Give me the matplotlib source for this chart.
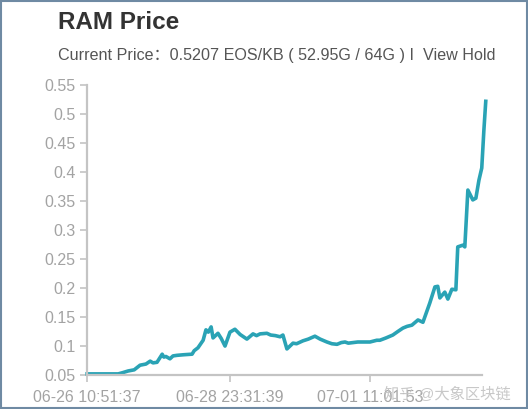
"""RAM price line chart (EOS/KB) over roughly a week."""

import datetime as dt

import matplotlib
matplotlib.use("Agg")
import matplotlib.pyplot as plt
import matplotlib.dates as mdates
from matplotlib.patches import Rectangle

# hours elapsed since 06-26 10:51:37, and price in EOS/KB
hours = [0, 6, 13.2, 15, 17.4, 20, 22.5, 25, 26.8, 28,
         29.7, 31.9, 32.6, 33.5, 35.2, 36.5, 38.2, 41, 44.6, 45.5,
         47.1, 49.3, 50.5, 51.5, 52.7, 53.5, 55.6, 57, 58.6, 60.7,
         62.8, 65, 67.9, 70.5, 72, 73.5, 76.4, 78, 80, 82,
         83.2, 84.9, 87.5, 89, 91.7, 94, 96.8, 99, 101.9, 104,
         106.2, 108, 109.6, 111, 113, 115, 117.2, 120.2, 123.1, 124.4,
         127, 129.9, 132, 134.2, 136, 138, 140.6, 142.7, 145.6, 147.8,
         149.0, 149.9, 152.0, 153.3, 155.0, 156.7, 157.5, 159.7, 160.5, 161.8,
         163.9, 165.2, 166.5, 167.7, 168.6, 169.4]
price = [0.052, 0.052, 0.052, 0.054, 0.057, 0.059, 0.067, 0.069, 0.074, 0.071,
         0.072, 0.086, 0.081, 0.082, 0.078, 0.083, 0.084, 0.085, 0.086, 0.092,
         0.097, 0.110, 0.128, 0.124, 0.133, 0.114, 0.122, 0.113, 0.100, 0.124,
         0.129, 0.120, 0.112, 0.121, 0.118, 0.121, 0.122, 0.119, 0.118, 0.116,
         0.119, 0.095, 0.105, 0.104, 0.109, 0.112, 0.117, 0.112, 0.107, 0.104,
         0.103, 0.106, 0.107, 0.105, 0.106, 0.107, 0.107, 0.107, 0.110, 0.110,
         0.114, 0.119, 0.125, 0.131, 0.134, 0.136, 0.145, 0.141, 0.174, 0.202,
         0.203, 0.183, 0.193, 0.181, 0.198, 0.197, 0.271, 0.274, 0.271, 0.369,
         0.352, 0.355, 0.386, 0.407, 0.472, 0.522]

y_ticks = [0.05, 0.1, 0.15, 0.2, 0.25, 0.3, 0.35, 0.4, 0.45, 0.5, 0.55]
y_labels = ["0.05", "0.1", "0.15", "0.2", "0.25", "0.3", "0.35", "0.4", "0.45", "0.5", "0.55"]
x_ticks = ["2018-06-26 10:51:37", "2018-06-28 23:31:39", "2018-07-01 11:01:53"]

title = "RAM Price"
subtitle = "Current Price：0.5207 EOS/KB ( 52.95G / 64G ) I  View Hold"
watermark = "知乎 @大象区块链"

start = dt.datetime(2018, 6, 26, 10, 51, 37)
times = [start + dt.timedelta(hours=h) for h in hours]
tick_times = [dt.datetime.strptime(t, "%Y-%m-%d %H:%M:%S") for t in x_ticks]

plt.rcParams["font.family"] = ["Liberation Sans", "Noto Sans CJK SC", "DejaVu Sans"]

fig = plt.figure(figsize=(5.28, 4.09), dpi=100)
ax = fig.add_axes([0.165, 0.083, 0.755, 0.709])

ax.plot(times, price, color="#2aa3b5", lw=2.6, solid_joinstyle="round",
        clip_on=False)

ax.set_xlim(start, times[-1])
ax.set_ylim(0.05, 0.55)
ax.set_yticks(y_ticks)
ax.set_yticklabels(y_labels)
ax.set_xticks(tick_times)
ax.xaxis.set_major_formatter(mdates.DateFormatter("%m-%d %H:%M:%S"))

for side in ("top", "right"):
    ax.spines[side].set_visible(False)
for side in ("left", "bottom"):
    ax.spines[side].set_color("#c4c4c4")
    ax.spines[side].set_linewidth(1.6)
ax.spines["bottom"].set_bounds(mdates.date2num(start),
                               mdates.date2num(start + dt.timedelta(hours=168)))
ax.tick_params(colors="#c4c4c4", labelcolor="#a3a3a3", labelsize=11.5,
               length=5, width=1.2)
ax.tick_params(axis="x", pad=6)

fig.text(0.11, 0.945, title, fontsize=17.5, fontweight="bold", color="#333333",
         va="center", ha="left")
fig.text(0.11, 0.865, subtitle, fontsize=11.6, color="#555555",
         va="center", ha="left")
fig.text(0.968, 0.035, watermark, fontsize=11, color="#c2c2c2", alpha=0.9,
         va="center", ha="right")

fig.patches.append(Rectangle((0.002, 0.003), 0.996, 0.994, transform=fig.transFigure,
                             fill=False, edgecolor="#6f8aa3", lw=1.5))

fig.savefig("out.png", dpi=100)
